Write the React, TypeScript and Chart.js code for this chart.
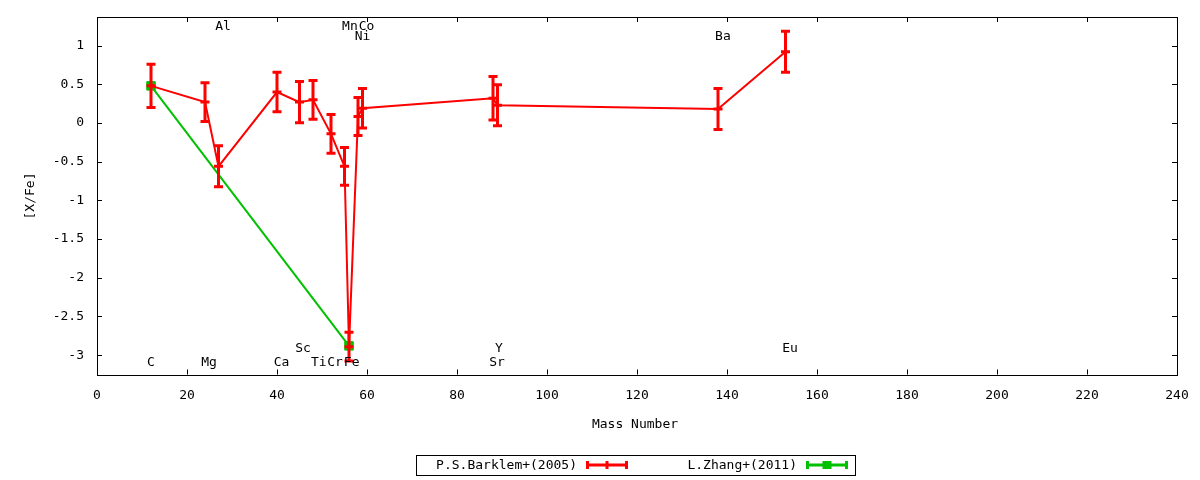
import { useEffect, useRef } from "react";
import { Chart, registerables } from "chart.js";

Chart.register(...registerables);

// ---- data ----
const barklemMass = [12, 24, 27, 40, 45, 48, 52, 55, 56, 58, 59, 88, 89, 138, 153];
const barklemXFe = [0.48, 0.27, -0.56, 0.4, 0.27, 0.3, -0.14, -0.56, -2.89, 0.085, 0.19, 0.32, 0.23, 0.18, 0.92];
const barklemErr = [0.28, 0.25, 0.265, 0.255, 0.265, 0.25, 0.25, 0.245, 0.185, 0.245, 0.255, 0.28, 0.265, 0.265, 0.265];

const zhangMass = [12, 56];
const zhangXFe = [0.48, -2.88];

const xTicks = [0, 20, 40, 60, 80, 100, 120, 140, 160, 180, 200, 220, 240];
const yTicks = [-3, -2.5, -2, -1.5, -1, -0.5, 0, 0.5, 1];

const labelTexts = ["C", "Mg", "Al", "Ca", "Sc", "Ti", "Cr", "Fe", "Mn", "Co", "Ni", "Y", "Sr", "Ba", "Eu"];
const labelMass = [12.0, 24.9, 28.0, 41.0, 45.8, 49.3, 52.9, 56.6, 56.2, 59.9, 59.0, 89.3, 88.9, 139.1, 154.0];
const labelLevel = [-3.1, -3.1, 1.24, -3.1, -2.92, -3.1, -3.1, -3.1, 1.24, 1.24, 1.11, -2.92, -3.1, 1.11, -2.92];

const legendNames = ["P.S.Barklem+(2005)", "L.Zhang+(2011)"];

const RED = "#ff0000";
const GREEN = "#00c000";
const FONT = '"DejaVu Sans Mono", monospace';

export default function App() {
  const ref = useRef<HTMLCanvasElement | null>(null);

  useEffect(() => {
    document.body.style.margin = "0";
    const canvas = ref.current;
    if (!canvas) return;

    const errorBars = {
      id: "errorBars",
      afterDatasetDraw(chart: any, args: any) {
        if (args.index !== 0) return;
        const { ctx, scales } = chart;
        const x = scales.x;
        const y = scales.y;
        ctx.save();
        ctx.strokeStyle = RED;
        ctx.lineWidth = 3;
        ctx.lineCap = "butt";
        for (let i = 0; i < barklemMass.length; i++) {
          const px = x.getPixelForValue(barklemMass[i]);
          const pTop = y.getPixelForValue(barklemXFe[i] + barklemErr[i]);
          const pBot = y.getPixelForValue(barklemXFe[i] - barklemErr[i]);
          ctx.beginPath();
          ctx.moveTo(px, pTop);
          ctx.lineTo(px, pBot);
          ctx.moveTo(px - 4.5, pTop);
          ctx.lineTo(px + 4.5, pTop);
          ctx.moveTo(px - 4.5, pBot);
          ctx.lineTo(px + 4.5, pBot);
          ctx.stroke();
        }
        ctx.restore();
      },
    };

    const decor = {
      id: "decor",
      afterDraw(chart: any) {
        const { ctx, chartArea, scales } = chart;
        const { left, right, top, bottom } = chartArea;
        const x = scales.x;
        const y = scales.y;
        ctx.save();
        // border
        ctx.strokeStyle = "#000";
        ctx.lineWidth = 1;
        ctx.strokeRect(Math.round(left) + 0.5, Math.round(top) + 0.5, Math.round(right - left), Math.round(bottom - top));
        // inward ticks
        ctx.beginPath();
        for (const v of xTicks) {
          const px = Math.round(x.getPixelForValue(v)) + 0.5;
          ctx.moveTo(px, bottom);
          ctx.lineTo(px, bottom - 5);
          ctx.moveTo(px, top);
          ctx.lineTo(px, top + 5);
        }
        for (const v of yTicks) {
          const py = Math.round(y.getPixelForValue(v)) + 0.5;
          ctx.moveTo(left, py);
          ctx.lineTo(left + 5, py);
          ctx.moveTo(right, py);
          ctx.lineTo(right - 5, py);
        }
        ctx.stroke();

        // element labels
        ctx.fillStyle = "#000";
        ctx.font = `13px ${FONT}`;
        ctx.textAlign = "center";
        ctx.textBaseline = "middle";
        for (let i = 0; i < labelTexts.length; i++) {
          ctx.fillText(labelTexts[i], x.getPixelForValue(labelMass[i]), y.getPixelForValue(labelLevel[i]));
        }

        // axis titles
        ctx.fillText("Mass Number", 635, 425);
        ctx.save();
        ctx.translate(31, 196);
        ctx.rotate(-Math.PI / 2);
        ctx.fillText("[X/Fe]", 0, 0);
        ctx.restore();

        // legend
        ctx.strokeStyle = "#000";
        ctx.lineWidth = 1;
        ctx.strokeRect(416.5, 455.5, 439, 20);
        ctx.textAlign = "right";
        ctx.fillText(legendNames[0], 577, 465.5);
        ctx.fillText(legendNames[1], 797, 465.5);

        const drawSample = (x0: number, x1: number, color: string, square: boolean) => {
          const cy = 465;
          ctx.strokeStyle = color;
          ctx.lineWidth = 3;
          ctx.beginPath();
          ctx.moveTo(x0, cy);
          ctx.lineTo(x1, cy);
          ctx.moveTo(x0 + 1.5, cy - 4);
          ctx.lineTo(x0 + 1.5, cy + 4);
          ctx.moveTo(x1 - 1.5, cy - 4);
          ctx.lineTo(x1 - 1.5, cy + 4);
          const mid = (x0 + x1) / 2;
          if (!square) {
            ctx.moveTo(mid, cy - 4);
            ctx.lineTo(mid, cy + 4);
          }
          ctx.stroke();
          if (square) {
            ctx.fillStyle = color;
            ctx.fillRect(mid - 4.5, cy - 4, 9, 8);
          }
        };
        drawSample(586, 628, RED, false);
        drawSample(806, 848, GREEN, true);
        ctx.restore();
      },
    };

    const chart = new Chart(canvas, {
      type: "line",
      data: {
        datasets: [
          {
            label: legendNames[0],
            data: barklemMass.map((m, i) => ({ x: m, y: barklemXFe[i] })),
            borderColor: RED,
            backgroundColor: RED,
            borderWidth: 2,
            pointStyle: "line",
            pointRadius: 4.5,
            pointBorderWidth: 3,
            pointBorderColor: RED,
            pointHoverRadius: 4.5,
            tension: 0,
          },
          {
            label: legendNames[1],
            data: zhangMass.map((m, i) => ({ x: m, y: zhangXFe[i] })),
            borderColor: GREEN,
            backgroundColor: GREEN,
            borderWidth: 2,
            pointStyle: "rect",
            pointRadius: 6,
            pointBorderWidth: 1,
            pointBorderColor: GREEN,
            pointBackgroundColor: GREEN,
            tension: 0,
          },
        ],
      },
      options: {
        animation: false,
        responsive: false,
        maintainAspectRatio: false,
        events: [],
        layout: { padding: { top: 17, right: 23, left: 0, bottom: 0 } },
        plugins: {
          legend: { display: false },
          tooltip: { enabled: false },
        },
        scales: {
          x: {
            type: "linear",
            min: 0,
            max: 240,
            grid: { display: false, drawTicks: false },
            border: { display: false },
            afterBuildTicks: (s: any) => {
              s.ticks = xTicks.map((v) => ({ value: v }));
            },
            afterFit: (s: any) => {
              s.height = 105.5;
              s.paddingLeft = 0;
              s.paddingRight = 0;
              s.paddingTop = 0;
              s.paddingBottom = 0;
            },
            ticks: {
              color: "#000",
              font: { family: FONT, size: 13 },
              padding: 13,
              maxRotation: 0,
              autoSkip: false,
              callback: (v: any) => String(v),
            },
          },
          y: {
            type: "linear",
            min: -3.25,
            max: 1.37,
            grid: { display: false, drawTicks: false },
            border: { display: false },
            afterBuildTicks: (s: any) => {
              s.ticks = yTicks.map((v) => ({ value: v }));
            },
            afterFit: (s: any) => {
              s.width = 97;
              s.paddingLeft = 0;
              s.paddingRight = 0;
              s.paddingTop = 0;
              s.paddingBottom = 0;
            },
            ticks: {
              color: "#000",
              font: { family: FONT, size: 13 },
              padding: 13,
              autoSkip: false,
              callback: (v: any) => String(v),
            },
          },
        },
      },
      plugins: [errorBars, decor],
    });

    return () => {
      chart.destroy();
    };
  }, []);

  return (
    <div style={{ width: 1200, height: 480, background: "#fff" }}>
      <canvas ref={ref} width={1200} height={480} style={{ width: 1200, height: 480, display: "block" }} />
    </div>
  );
}
